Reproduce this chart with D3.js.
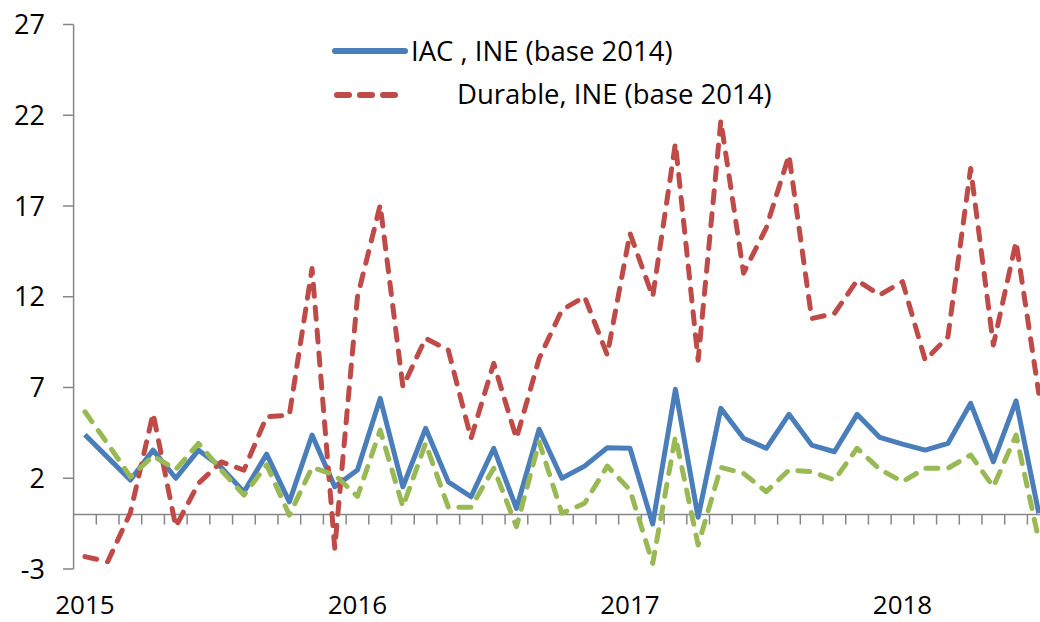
<!DOCTYPE html>
<html>
<head>
<meta charset="utf-8">
<script src="https://cdn.jsdelivr.net/npm/d3@7"></script>
<style>
  html, body { margin: 0; padding: 0; background: #fff; }
  svg text { font-family: "Open Sans", sans-serif; fill: #000; }
</style>
</head>
<body>
<svg id="chart" width="1040" height="622"></svg>
<script>
// monthly categories, Jan 2015 .. Jul 2018
const months = [
  "2015-01","2015-02","2015-03","2015-04","2015-05","2015-06","2015-07","2015-08","2015-09","2015-10","2015-11","2015-12",
  "2016-01","2016-02","2016-03","2016-04","2016-05","2016-06","2016-07","2016-08","2016-09","2016-10","2016-11","2016-12",
  "2017-01","2017-02","2017-03","2017-04","2017-05","2017-06","2017-07","2017-08","2017-09","2017-10","2017-11","2017-12",
  "2018-01","2018-02","2018-03","2018-04","2018-05","2018-06","2018-07"
];
const yearLabels = { "2015-01": "2015", "2016-01": "2016", "2017-01": "2017", "2018-01": "2018" };
const yTicks = [-3, 2, 7, 12, 17, 22, 27];

const iac = [4.4, 3.15, 1.9, 3.55, 2.0, 3.55, 2.6, 1.25, 3.33, 0.7, 4.38, 1.53,
  2.45, 6.4, 1.53, 4.75, 1.8, 0.98, 3.65, 0.34, 4.7, 2.0, 2.67, 3.68,
  3.65, -0.52, 6.9, -0.15, 5.85, 4.2, 3.65, 5.52, 3.83, 3.46, 5.52, 4.25,
  3.88, 3.55, 3.92, 6.13, 2.91, 6.27, 0.07];
const durable = [-2.32, -2.6, 0.1, 5.57, -0.67, 1.72, 2.9, 2.45, 5.39, 5.48, 13.56, -1.86,
  12.0, 17.05, 7.04, 9.71, 9.06, 4.2, 8.33, 4.2, 8.6, 11.27, 12.0, 8.79,
  15.5, 12.0, 20.45, 8.5, 21.7, 13.3, 15.8, 19.8, 10.8, 11.08, 12.9, 12.1,
  12.83, 8.5, 9.8, 19.07, 9.34, 15.03, 6.68];
const third = [5.66, 3.9, 2.08, 3.22, 2.49, 3.92, 2.45, 1.07, 2.73, -0.03, 2.6, 2.18,
  1.0, 4.65, 0.43, 3.92, 0.4, 0.4, 2.55, -0.67, 4.0, 0.07, 0.62, 2.67,
  1.35, -2.69, 4.29, -1.68, 2.6, 2.27, 1.26, 2.45, 2.36, 1.9, 3.65, 2.49,
  1.81, 2.55, 2.55, 3.28, 1.53, 4.38, -1.4];

const svg = d3.select("#chart");
const axisColor = "#868686";

// plot runs past the right edge of the picture, like the cropped original
const x = d3.scaleBand().domain(months).range([73.6, 73.6 + 43 * 22.71]);
const y = d3.scaleLinear().domain([-3, 27]).range([569, 24.5]);
const cx = m => x(m) + x.bandwidth() / 2;

// y axis
svg.append("line")
  .attr("x1", 73.6).attr("x2", 73.6)
  .attr("y1", y(27)).attr("y2", y(-3))
  .attr("stroke", axisColor).attr("stroke-width", 1.5);
svg.selectAll(".ytick").data(yTicks).enter().append("line")
  .attr("x1", 63).attr("x2", 73.6)
  .attr("y1", d => y(d)).attr("y2", d => y(d))
  .attr("stroke", axisColor).attr("stroke-width", 1.5);
svg.selectAll(".ylab").data(yTicks).enter().append("text")
  .attr("x", 45).attr("y", d => y(d))
  .attr("dy", "0.36em")
  .attr("text-anchor", "end")
  .style("font-size", "27px")
  .text(d => d);

// category axis crossing at zero
svg.append("line")
  .attr("x1", 73.6).attr("x2", 1040)
  .attr("y1", y(0)).attr("y2", y(0))
  .attr("stroke", axisColor).attr("stroke-width", 1.5);
svg.selectAll(".xtick").data(months).enter().append("line")
  .attr("x1", (d, i) => x(months[0]) + (i + 1) * x.step())
  .attr("x2", (d, i) => x(months[0]) + (i + 1) * x.step())
  .attr("y1", y(0)).attr("y2", y(0) + 10)
  .attr("stroke", axisColor).attr("stroke-width", 1.5);
svg.selectAll(".xlab").data(months.filter(m => yearLabels[m])).enter().append("text")
  .attr("x", d => cx(d)).attr("y", 614)
  .attr("text-anchor", "middle")
  .style("font-size", "26px")
  .text(d => yearLabels[d]);

// series
const series = [
  { name: "IAC , INE (base 2014)", values: iac, color: "#4a7ebb", dash: null },
  { name: "Durable, INE (base 2014)", values: durable, color: "#be4b48", dash: "12,11" },
  { name: null, values: third, color: "#98b954", dash: "12,11" }
];

const line = d3.line()
  .x((d, i) => cx(months[i]))
  .y(d => y(d));

svg.selectAll(".series").data(series).enter().append("path")
  .attr("d", d => line(d.values))
  .attr("fill", "none")
  .attr("stroke", d => d.color)
  .attr("stroke-width", 5)
  .attr("stroke-linejoin", "round")
  .attr("stroke-linecap", d => d.dash ? "round" : "butt")
  .attr("stroke-dasharray", d => d.dash);

// legend
const legendRows = [
  { s: series[0], ly: 51, x1: 335, x2: 405, tx: 411, ty: 61 },
  { s: series[1], ly: 95, x1: 337, x2: 398, tx: 457, ty: 104 }
];
legendRows.forEach(r => {
  svg.append("line")
    .attr("x1", r.x1).attr("x2", r.x2)
    .attr("y1", r.ly).attr("y2", r.ly)
    .attr("stroke", r.s.color)
    .attr("stroke-width", 6)
    .attr("stroke-linecap", "round")
    .attr("stroke-dasharray", r.s.dash);
  svg.append("text")
    .attr("x", r.tx).attr("y", r.ty)
    .style("font-size", "27.5px")
    .text(r.s.name);
});
</script>
</body>
</html>
